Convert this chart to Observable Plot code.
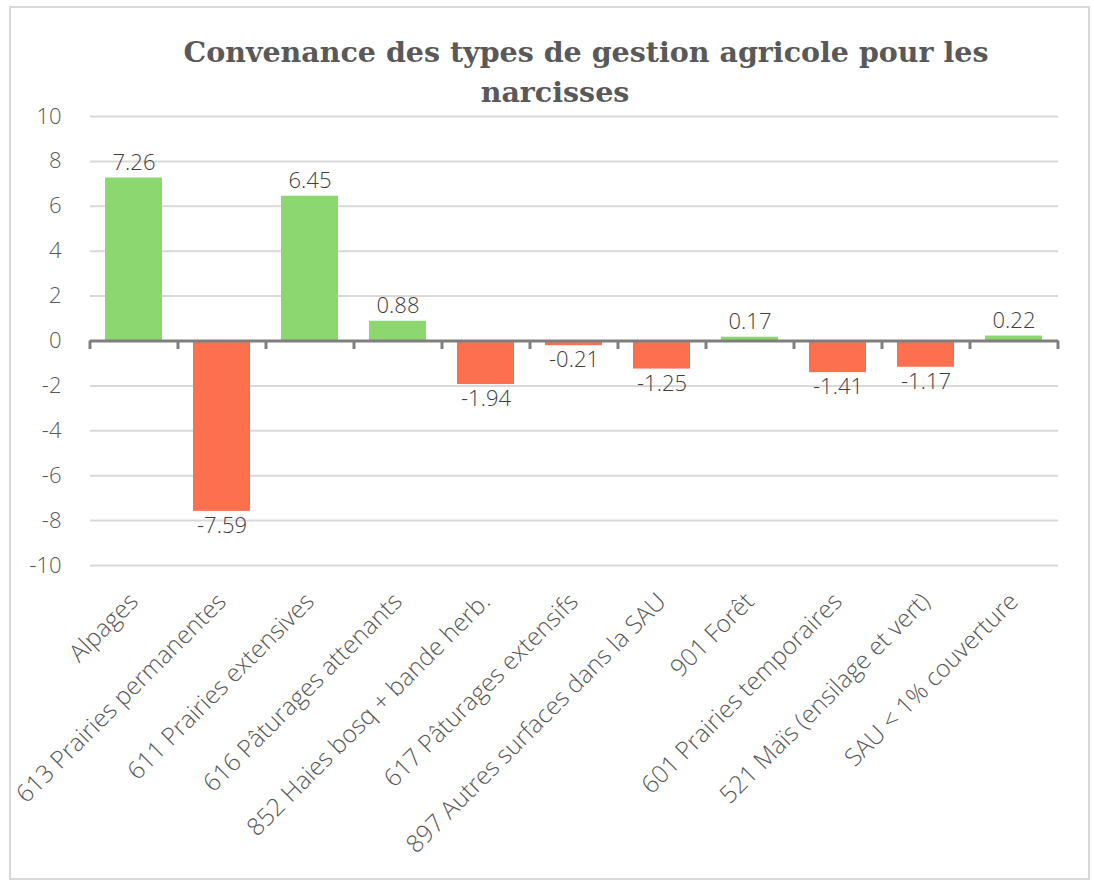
<!DOCTYPE html>
<html>
<head>
<meta charset="utf-8">
<script src="https://cdn.jsdelivr.net/npm/d3@7"></script>
<script src="https://cdn.jsdelivr.net/npm/@observablehq/plot@0.6"></script>
<style>
  body { margin: 0; background: #fff; }
  #wrap { position: relative; width: 1094px; height: 881px; overflow: hidden; }
  #border { position: absolute; left: 9px; top: 6px; width: 1077px; height: 870px; border: 2px solid #d9d9d9; box-sizing: content-box; }
  .title { position: absolute; left: 0; text-align: center; white-space: nowrap;
    font-family: "DejaVu Serif", serif; font-weight: bold; font-size: 28.5px; line-height: 28px; color: #595959; }
  #t1 { top: 38px; width: 1172px; }
  #t2 { top: 78px; width: 1110px; }
  #chart { position: absolute; left: 0; top: 0; }
</style>
</head>
<body>
<div id="wrap">
  <div id="border"></div>
  <div id="chart"></div>
  <div class="title" id="t1">Convenance des types de gestion agricole pour les</div>
  <div class="title" id="t2">narcisses</div>
</div>
<script>
const categories = [
  "Alpages",
  "613 Prairies permanentes",
  "611 Prairies extensives",
  "616 Pâturages attenants",
  "852 Haies bosq + bande herb.",
  "617 Pâturages extensifs",
  "897 Autres surfaces dans la SAU",
  "901 Forêt",
  "601 Prairies temporaires",
  "521 Maïs (ensilage et vert)",
  "SAU < 1% couverture"
];
const values = [7.26, -7.59, 6.45, 0.88, -1.94, -0.21, -1.25, 0.17, -1.41, -1.17, 0.22];
const yTicks = [-10, -8, -6, -4, -2, 0, 2, 4, 6, 8, 10];

const data = categories.map((c, i) => ({cat: c, v: values[i]}));

const W = 1094, H = 881;
const mTop = 116, mBottom = 316, mLeft = 90, mRight = 36;
const step = (W - mLeft - mRight) / categories.length;

const green = "#8DD771", red = "#FC7050";
const font = "'Open Sans', sans-serif";

const chart = Plot.plot({
  width: W,
  height: H,
  marginTop: mTop,
  marginBottom: mBottom,
  marginLeft: mLeft,
  marginRight: mRight,
  style: {fontFamily: font, background: "transparent"},
  x: {domain: categories, paddingInner: 0.35, paddingOuter: 0.175, align: 0.5},
  y: {domain: [-10, 10]},
  marks: [
    Plot.ruleY(yTicks.filter(d => d !== 0), {stroke: "#d9d9d9", strokeWidth: 2}),
    Plot.barY(data, {x: "cat", y: "v", fill: d => d.v >= 0 ? green : red}),
    Plot.ruleY([0], {stroke: "#7f7f7f", strokeWidth: 3}),
    Plot.ruleX(categories, {x: d => d, dx: -step / 2, y1: 0, y2: -0.38, stroke: "#7f7f7f", strokeWidth: 3}),
    Plot.ruleX(categories.slice(-1), {x: d => d, dx: step / 2, y1: 0, y2: -0.38, stroke: "#7f7f7f", strokeWidth: 3}),
    Plot.text(data.filter(d => d.v >= 0), {x: "cat", y: "v", text: d => d.v.toFixed(2), lineAnchor: "bottom", dy: -8, fontSize: 22, fill: "#404040", fontWeight: 300}),
    Plot.text(data.filter(d => d.v < 0), {x: "cat", y: "v", text: d => d.v.toFixed(2), lineAnchor: "top", dy: 6, fontSize: 22, fill: "#404040", fontWeight: 300}),
    Plot.axisY({ticks: yTicks, tickSize: 0, tickPadding: 29, tickFormat: d => String(d), fontSize: 22, fill: "#595959", label: null, fontWeight: 300}),
    Plot.axisX({tickSize: 0, tickRotate: -45, tickPadding: 32, fontSize: 24.5, fill: "#595959", label: null, fontWeight: 300})
  ]
});
document.getElementById("chart").appendChild(chart);
</script>
</body>
</html>
